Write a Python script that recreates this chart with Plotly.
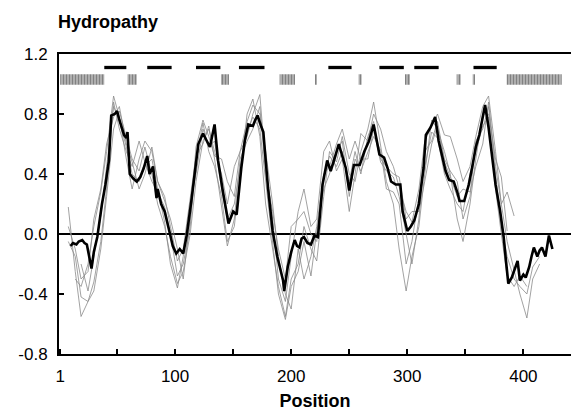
"""Hydropathy profile: consensus line, individual sequences and predicted segments."""
import plotly.graph_objects as go

# consensus (bold) profile
avg_pos = [10, 12, 15, 17, 20, 22, 24, 28, 30, 33, 37, 40, 43, 45, 48, 50, 52, 54, 56, 58,
           59, 61, 64, 67, 70, 73, 76, 78, 81, 84, 85, 88, 91, 95, 98, 101, 104, 107, 110, 114,
           117, 120, 124, 127, 130, 134, 137, 141, 146, 150, 153, 157, 160, 163, 167, 169, 171, 174, 176, 180,
           184, 188, 191, 193, 194, 197, 200, 203, 205, 207, 209, 211, 214, 217, 220, 223, 225, 227, 231, 234,
           238, 241, 244, 247, 250, 254, 259, 263, 267, 271, 276, 280, 283, 286, 290, 294, 296, 300, 303, 306,
           310, 314, 316, 320, 324, 327, 330, 333, 336, 340, 343, 345, 349, 353, 356, 359, 362, 364, 367, 370,
           373, 376, 380, 383, 385, 387, 390, 392, 395, 397, 400, 402, 405, 407, 409, 412, 414, 416, 418, 419,
           422, 425]
avg_val = [-0.08, -0.06, -0.07, -0.05, -0.04, -0.06, -0.07, -0.23, -0.12, -0.02, 0.20, 0.33, 0.49, 0.79, 0.80, 0.82, 0.76, 0.71, 0.66, 0.64,
           0.68, 0.40, 0.37, 0.35, 0.38, 0.44, 0.52, 0.40, 0.45, 0.24, 0.30, 0.20, 0.15, 0.02, -0.08, -0.13, -0.10, -0.13, -0.01, 0.22,
           0.42, 0.60, 0.67, 0.62, 0.58, 0.73, 0.49, 0.29, 0.07, 0.15, 0.13, 0.44, 0.62, 0.73, 0.72, 0.76, 0.79, 0.72, 0.68, 0.31,
           0.02, -0.15, -0.25, -0.31, -0.38, -0.22, -0.12, -0.04, -0.08, -0.09, -0.03, -0.02, -0.06, -0.07, -0.01, -0.02, 0.15, 0.33, 0.49, 0.42,
           0.52, 0.60, 0.52, 0.44, 0.29, 0.46, 0.46, 0.55, 0.62, 0.73, 0.53, 0.51, 0.44, 0.35, 0.33, 0.33, 0.15, 0.02, 0.05, 0.09,
           0.20, 0.44, 0.66, 0.71, 0.78, 0.62, 0.52, 0.42, 0.36, 0.35, 0.28, 0.22, 0.22, 0.33, 0.45, 0.58, 0.66, 0.75, 0.86, 0.71,
           0.52, 0.33, 0.15, -0.02, -0.18, -0.33, -0.29, -0.24, -0.18, -0.31, -0.27, -0.29, -0.22, -0.15, -0.09, -0.15, -0.11, -0.09, -0.13, -0.15,
           -0.01, -0.10]

# individual sequences (thin lines), sampled on a common position grid
seq_pos = [3, 8, 14, 19, 25, 30, 36, 41, 47, 52, 58, 63, 69, 74, 80, 85, 91, 96, 102, 107,
           113, 118, 124, 129, 134, 140, 145, 151, 156, 162, 167, 173, 178, 184, 189, 195, 200, 206, 211, 217,
           222, 228, 233, 239, 244, 250, 255, 260, 266, 271, 277, 282, 288, 293, 299, 304, 310, 315, 321, 326,
           332, 337, 343, 348, 354, 359, 365, 370, 376, 381, 386, 392, 397, 403, 408, 414, 419]
seq_a = [None, 0.18, -0.25, -0.55, -0.45, -0.32, -0.05, 0.30, 0.88, 0.70,
         0.55, 0.45, 0.62, 0.48, 0.35, 0.28, 0.18, 0.00, -0.28, -0.20,
         0.05, 0.50, 0.74, 0.55, 0.45, 0.25, -0.05, 0.05, 0.40, 0.80,
         0.90, 0.65, 0.20, -0.10, -0.35, -0.55, -0.30, -0.20, 0.05, -0.10,
         -0.18, 0.25, 0.55, 0.48, 0.65, 0.40, 0.35, 0.55, 0.70, 0.88,
         0.60, 0.35, 0.20, -0.10, -0.38, -0.15, 0.05, 0.40, 0.76, 0.70,
         0.55, 0.40, 0.10, -0.05, 0.20, 0.50, 0.80, 0.80, 0.50, 0.38,
         0.02, None, None, None, None, None, None]
seq_b = [None, -0.05, -0.15, -0.42, -0.45, -0.38, -0.10, 0.25, 0.70, 0.82,
         0.65, 0.50, 0.42, 0.58, 0.40, 0.20, 0.05, -0.15, -0.33, -0.25,
         0.00, 0.35, 0.62, 0.70, 0.55, 0.40, 0.20, 0.45, 0.55, 0.65,
         0.80, 0.93, 0.45, 0.10, -0.30, -0.45, -0.15, 0.15, 0.30, 0.05,
         0.10, 0.55, 0.62, 0.42, 0.50, 0.15, 0.40, 0.67, 0.62, 0.80,
         0.70, 0.55, 0.45, 0.32, 0.15, 0.08, 0.30, 0.62, 0.72, 0.80,
         0.66, 0.65, 0.50, 0.35, 0.45, 0.65, 0.85, 0.92, 0.55, 0.20,
         -0.05, -0.25, -0.40, -0.56, -0.30, -0.20, None]
seq_c = [None, None, -0.30, -0.35, -0.20, 0.05, 0.28, 0.55, 0.92, 0.78,
         0.50, 0.30, 0.50, 0.62, 0.55, 0.35, 0.22, 0.10, -0.10, -0.30,
         0.10, 0.58, 0.76, 0.65, 0.52, 0.50, 0.35, 0.25, 0.55, 0.75,
         0.86, 0.80, 0.55, 0.20, -0.15, -0.40, -0.50, -0.10, -0.30, -0.15,
         0.05, 0.40, 0.45, 0.60, 0.70, 0.50, 0.62, 0.50, 0.50, 0.70,
         0.48, 0.42, 0.38, 0.25, 0.00, -0.20, 0.10, 0.55, 0.62, 0.75,
         0.50, 0.42, 0.35, 0.10, 0.25, 0.62, 0.70, 0.85, 0.40, 0.05,
         -0.15, -0.30, -0.35, -0.40, -0.22, -0.15, None]
seq_d = [None, None, None, -0.20, -0.38, -0.15, 0.12, 0.45, 0.85, 0.76,
         0.58, 0.40, 0.35, 0.45, 0.50, 0.30, 0.08, -0.20, -0.36, -0.15,
         0.20, 0.40, 0.70, 0.58, 0.62, 0.30, 0.10, 0.20, 0.45, 0.68,
         0.78, 0.70, 0.35, -0.05, -0.40, -0.57, -0.35, -0.25, -0.05, -0.28,
         0.02, 0.30, 0.40, 0.55, 0.62, 0.25, 0.50, 0.42, 0.55, 0.65,
         0.56, 0.30, 0.28, 0.20, -0.20, -0.05, 0.25, 0.45, 0.68, 0.64,
         0.40, 0.30, 0.20, 0.15, 0.40, 0.55, 0.72, 0.78, 0.30, 0.00,
         -0.28, -0.35, -0.28, -0.35, None, None, None]
seq_e = [None, 0.05, -0.10, -0.30, -0.25, 0.10, 0.30, 0.60, 0.78, 0.85,
         0.60, 0.48, 0.30, 0.40, 0.58, 0.35, 0.25, 0.05, -0.18, -0.10,
         0.25, 0.52, 0.60, 0.72, 0.50, 0.20, -0.08, 0.10, 0.50, 0.62,
         0.70, 0.85, 0.40, 0.15, -0.10, -0.30, 0.05, 0.10, 0.15, 0.00,
         -0.05, 0.38, 0.52, 0.45, 0.55, 0.35, 0.55, 0.40, 0.65, 0.75,
         0.50, 0.45, 0.40, 0.38, 0.10, 0.15, 0.15, 0.35, 0.60, 0.72,
         0.48, 0.38, 0.25, 0.30, 0.28, 0.45, 0.60, 0.88, 0.45, 0.20,
         0.28, 0.12, None, None, None, None, None]
seq_list = [seq_a, seq_b, seq_c, seq_d, seq_e]

# predicted transmembrane segments (black bars)
tm_start = [39, 76, 118, 155, 232, 276, 306, 357]
tm_end = [58, 97, 139, 177, 252, 297, 327, 377]

# conserved blocks (hatched grey bars)
block_start = [1, 59, 139.5, 190, 221, 258, 298, 342.5, 356.3, 385.6]
block_end = [39, 67, 146.4, 203.3, 222.2, 260.7, 302.3, 346, 358.3, 433]

FONT = "Liberation Sans, Arial, sans-serif"

fig = go.Figure()

for seq in seq_list:
    fig.add_trace(go.Scatter(x=seq_pos, y=seq, mode="lines",
                             line=dict(color="#8a8a8a", width=0.8)))

fig.add_trace(go.Scatter(x=avg_pos, y=avg_val, mode="lines",
                         line=dict(color="black", width=2.6)))

fig.add_trace(go.Bar(orientation="h",
                     base=block_start,
                     x=[e - s for s, e in zip(block_start, block_end)],
                     y=[1.03] * len(block_start),
                     width=0.07,
                     marker=dict(color="#bdbdbd", line_width=0,
                                 pattern=dict(shape="|", fgcolor="#454545", size=3, solidity=0.5))))

fig.add_trace(go.Bar(orientation="h",
                     base=tm_start,
                     x=[e - s for s, e in zip(tm_start, tm_end)],
                     y=[1.11] * len(tm_start),
                     width=0.022,
                     marker=dict(color="black", line_width=0)))

fig.update_layout(
    width=573,
    height=411,
    margin=dict(l=59, r=2, t=54, b=55),
    paper_bgcolor="white",
    plot_bgcolor="white",
    showlegend=False,
    barmode="overlay",
    font=dict(family=FONT, size=17, color="black"),
    title=dict(text="<b>Hydropathy</b>", x=58 / 573, xanchor="left",
               y=1 - 22 / 411, yanchor="middle", font=dict(size=18)),
)
fig.update_xaxes(
    range=[0, 441],
    showgrid=False,
    zeroline=False,
    showline=True, linecolor="black", linewidth=2, mirror=True,
    ticks="inside", ticklen=5, tickwidth=1.5, tickcolor="black",
    tickvals=[1, 100, 200, 300, 400],
    ticktext=["1", "100", "200", "300", "400"],
    ticklabelstandoff=6,
    minor=dict(tickvals=[50, 150, 250, 350], ticks="inside", ticklen=5, tickwidth=1.5, tickcolor="black"),
    title=dict(text="<b>Position</b>", font=dict(size=18), standoff=10),
)
fig.update_yaxes(
    range=[-0.8, 1.2],
    showgrid=False,
    zeroline=True, zerolinecolor="black", zerolinewidth=2,
    showline=True, linecolor="black", linewidth=2,
    ticks="inside", ticklen=5, tickwidth=1.5, tickcolor="black",
    tickvals=[-0.8, -0.4, 0.0, 0.4, 0.8, 1.2],
    ticktext=["-0.8", "-0.4", "0.0", "0.4", "0.8", "1.2"],
    ticklabelstandoff=6,
)

# the page body has a default margin; drop it so the figure sits at the window corner
fig.write_html("out.html", config={"displayModeBar": False},
               post_script="document.body.style.margin = '0';")
